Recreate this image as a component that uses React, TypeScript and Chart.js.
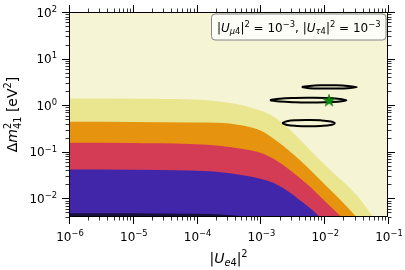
import React, { useEffect, useRef } from "react";
import { Chart, registerables } from "chart.js";

Chart.register(...registerables);

// ---- axes ----
const xMin = 1e-6;
const xMax = 1e-1;
const yMin = 4e-3;
const yMax = 1e2;
const xTickExponents = [-6, -5, -4, -3, -2, -1];
const yTickExponents = [-2, -1, 0, 1, 2];

// ---- allowed regions (upper boundaries) ----
const yellowX = [1e-6, 1e-5, 7.85e-5, 2.06e-4, 5.31e-4, 1.41e-3, 1.87e-3, 3.46e-3, 6.6e-3, 1.22e-2, 2.34e-2, 3.87e-2, 5.8e-2];
const yellowY = [1.39, 1.37, 1.32, 1.22, 0.986, 0.632, 0.494, 0.236, 0.0957, 0.042, 0.0184, 0.00867, 0.004];

const orangeX = [1e-6, 1e-5, 7.85e-5, 2.06e-4, 5.31e-4, 1e-3, 1.68e-3, 3.07e-3, 5.94e-3, 1.08e-2, 1.88e-2, 3.2e-2];
const orangeY = [0.441, 0.437, 0.426, 0.42, 0.367, 0.287, 0.184, 0.0957, 0.042, 0.0184, 0.00867, 0.004];

const redX = [1e-6, 1e-5, 7.85e-5, 2.06e-4, 5.31e-4, 1e-3, 1.68e-3, 3.1e-3, 5.94e-3, 1.06e-2, 1.86e-2];
const redY = [0.157, 0.155, 0.148, 0.137, 0.115, 0.0957, 0.0687, 0.038, 0.0181, 0.0084, 0.004];

const blueX = [1e-6, 1e-5, 7.85e-5, 2.06e-4, 5.31e-4, 1e-3, 1.68e-3, 2.89e-3, 4.6e-3, 6.6e-3, 8.5e-3];
const blueY = [0.042, 0.0414, 0.04, 0.0375, 0.0313, 0.0265, 0.021, 0.0135, 0.00826, 0.00556, 0.004];

const darkX = [1e-6, 1e-4, 2.77e-4, 6.8e-4];
const darkY = [0.0048, 0.0047, 0.00445, 0.004];

// ---- fit contours ----
const upperEllX = [4.45e-3, 5.94e-3, 9.16e-3, 1.46e-2, 2.34e-2, 3.24e-2, 2.34e-2, 1.46e-2, 9.16e-3, 5.94e-3, 4.45e-3];
const upperEllY = [2.45, 2.6, 2.67, 2.67, 2.6, 2.45, 2.32, 2.28, 2.28, 2.32, 2.45];

const midEllX = [1.41e-3, 2.01e-3, 3.46e-3, 5.94e-3, 1.02e-2, 1.63e-2, 2.23e-2, 1.63e-2, 1.02e-2, 5.94e-3, 3.46e-3, 2.01e-3, 1.41e-3];
const midEllY = [1.28, 1.38, 1.43, 1.44, 1.43, 1.38, 1.28, 1.19, 1.16, 1.15, 1.16, 1.2, 1.28];

const lowEllX = [2.19e-3, 2.6e-3, 3.71e-3, 5.73e-3, 8.83e-3, 1.27e-2, 1.46e-2, 1.27e-2, 8.83e-3, 5.73e-3, 3.71e-3, 2.6e-3, 2.19e-3];
const lowEllY = [0.412, 0.452, 0.475, 0.48, 0.474, 0.448, 0.412, 0.377, 0.359, 0.353, 0.359, 0.377, 0.412];

// ---- best fit ----
const starX = [1.19e-2];
const starY = [1.28];

const COLORS = {
  bg: "#f5f4d4",
  yellow: "#e9e68f",
  orange: "#e6940f",
  red: "#d43c55",
  blue: "#4226aa",
  dark: "#18103c",
};

const FONT = '"DejaVu Sans", sans-serif';

type Seg = { t: string; it?: boolean; sc?: "sup" | "sub"; sub?: string };

function pts(xs: number[], ys: number[]) {
  return xs.map((x, i) => ({ x, y: ys[i] }));
}

function segFont(size: number, s: Seg, script: boolean) {
  const sz = script ? size * 0.7 : size;
  return `${s.it ? "italic " : ""}${sz}px ${FONT}`;
}

function segWidth(ctx: CanvasRenderingContext2D, s: Seg, size: number) {
  ctx.font = segFont(size, s, !!s.sc);
  let w = ctx.measureText(s.t).width;
  if (s.sub) {
    ctx.font = segFont(size, { t: s.sub }, true);
    w = Math.max(w, ctx.measureText(s.sub).width);
  }
  return w;
}

function drawRich(
  ctx: CanvasRenderingContext2D,
  segs: Seg[],
  x: number,
  y: number,
  size: number,
  align: "left" | "center" | "right"
) {
  const widths = segs.map((s) => segWidth(ctx, s, size));
  const total = widths.reduce((a, b) => a + b, 0);
  let cx = align === "left" ? x : align === "center" ? x - total / 2 : x - total;
  ctx.textAlign = "left";
  ctx.textBaseline = "alphabetic";
  segs.forEach((s, i) => {
    ctx.font = segFont(size, s, !!s.sc);
    const dy = s.sc === "sup" ? -size * 0.4 : s.sc === "sub" ? size * 0.2 : 0;
    ctx.fillText(s.t, cx, y + dy);
    if (s.sub) {
      ctx.font = segFont(size, { t: s.sub }, true);
      ctx.fillText(s.sub, cx, y + size * 0.3);
    }
    cx += widths[i];
  });
  return total;
}

function expLabel(e: number): Seg[] {
  return [{ t: "10" }, { t: (e < 0 ? "\u2212" : "") + Math.abs(e), sc: "sup" }];
}

function makeStar(size: number, color: string) {
  const c = document.createElement("canvas");
  c.width = size;
  c.height = size;
  const g = c.getContext("2d")!;
  const R = size / 2 - 0.5;
  const r = R * 0.382;
  g.beginPath();
  for (let i = 0; i < 10; i++) {
    const rad = i % 2 === 0 ? R : r;
    const a = -Math.PI / 2 + (i * Math.PI) / 5;
    const px = size / 2 + rad * Math.cos(a);
    const py = size / 2 + 0.6 + rad * Math.sin(a);
    if (i === 0) g.moveTo(px, py);
    else g.lineTo(px, py);
  }
  g.closePath();
  g.fillStyle = color;
  g.fill();
  g.strokeStyle = "#0a6e0a";
  g.lineWidth = 0.6;
  g.stroke();
  return c;
}

const decorPlugin = {
  id: "decor",
  beforeDraw(chart: any) {
    const { ctx, chartArea: a } = chart;
    ctx.save();
    ctx.fillStyle = "#ffffff";
    ctx.fillRect(0, 0, chart.width, chart.height);
    ctx.fillStyle = COLORS.bg;
    ctx.fillRect(a.left, a.top, a.right - a.left, a.bottom - a.top);
    ctx.restore();
  },
  afterDraw(chart: any) {
    const { ctx, chartArea: a } = chart;
    const xs = chart.scales.x;
    const ys = chart.scales.y;
    ctx.save();
    // spines
    ctx.strokeStyle = "#000";
    ctx.lineWidth = 1;
    ctx.strokeRect(a.left + 0.5, a.top + 0.5, a.right - a.left - 1, a.bottom - a.top - 1);

    // ticks
    const drawTicks = (scale: any, min: number, max: number, horizontal: boolean) => {
      const e0 = Math.floor(Math.log10(min));
      const e1 = Math.ceil(Math.log10(max));
      for (let e = e0; e <= e1; e++) {
        for (let k = 1; k <= 9; k++) {
          const v = k * Math.pow(10, e);
          if (v < min * 0.999 || v > max * 1.001) continue;
          const p = Math.round(scale.getPixelForValue(v)) + 0.5;
          const len = k === 1 ? 7 : 3.5;
          ctx.lineWidth = k === 1 ? 1 : 0.8;
          ctx.beginPath();
          if (horizontal) {
            ctx.moveTo(p, a.bottom);
            ctx.lineTo(p, a.bottom + len);
            ctx.moveTo(p, a.top);
            ctx.lineTo(p, a.top - len);
          } else {
            ctx.moveTo(a.left, p);
            ctx.lineTo(a.left - len, p);
            ctx.moveTo(a.right, p);
            ctx.lineTo(a.right + len, p);
          }
          ctx.stroke();
        }
      }
    };
    drawTicks(xs, xMin, xMax, true);
    drawTicks(ys, yMin, yMax, false);

    // tick labels
    ctx.fillStyle = "#000";
    const tsize = 12;
    xTickExponents.forEach((e) => {
      const px = xs.getPixelForValue(Math.pow(10, e));
      drawRich(ctx, expLabel(e), px + 1, a.bottom + 24, tsize, "center");
    });
    yTickExponents.forEach((e) => {
      const py = ys.getPixelForValue(Math.pow(10, e));
      drawRich(ctx, expLabel(e), a.left - 12, py + 4.5, tsize, "right");
    });

    // axis titles
    const xTitle: Seg[] = [
      { t: "|" },
      { t: "U", it: true },
      { t: "e", it: true, sc: "sub" },
      { t: "4", sc: "sub" },
      { t: "|" },
      { t: "2", sc: "sup" },
    ];
    drawRich(ctx, xTitle, (a.left + a.right) / 2, 263, 14, "center");

    const yTitle: Seg[] = [
      { t: "\u0394" },
      { t: "m", it: true },
      { t: "2", sc: "sup", sub: "41" },
      { t: " [eV" },
      { t: "2", sc: "sup" },
      { t: "]" },
    ];
    ctx.save();
    ctx.translate(17, (a.top + a.bottom) / 2);
    ctx.rotate(-Math.PI / 2);
    drawRich(ctx, yTitle, 0, 0, 14, "center");
    ctx.restore();

    // annotation box
    const boxSegs: Seg[] = [
      { t: "|" },
      { t: "U", it: true },
      { t: "\u03bc", it: true, sc: "sub" },
      { t: "4", sc: "sub" },
      { t: "|" },
      { t: "2", sc: "sup" },
      { t: " = 10" },
      { t: "\u22123", sc: "sup" },
      { t: ", |" },
      { t: "U", it: true },
      { t: "\u03c4", it: true, sc: "sub" },
      { t: "4", sc: "sub" },
      { t: "|" },
      { t: "2", sc: "sup" },
      { t: " = 10" },
      { t: "\u22123", sc: "sup" },
    ];
    const bx = 211;
    const by = 13.5;
    const bw = 174.5;
    const bh = 26;
    ctx.beginPath();
    ctx.roundRect(bx + 0.5, by + 0.5, bw, bh, 3.5);
    ctx.fillStyle = "rgba(255,255,255,0.8)";
    ctx.fill();
    ctx.strokeStyle = "#858585";
    ctx.lineWidth = 1;
    ctx.stroke();
    ctx.fillStyle = "#000";
    drawRich(ctx, boxSegs, bx + bw / 2 + 0.5, by + 18, 12, "center");
    ctx.restore();
  },
};

export default function App() {
  const ref = useRef<HTMLCanvasElement | null>(null);

  useEffect(() => {
    if (!ref.current) return;
    const star = makeStar(14, "#0c8a0c");
    const region = (xs: number[], ys: number[], color: string) => ({
      data: pts(xs, ys),
      borderWidth: 0,
      borderColor: color,
      backgroundColor: color,
      fill: "start" as const,
      pointRadius: 0,
      cubicInterpolationMode: "monotone" as const,
    });
    const contour = (xs: number[], ys: number[]) => ({
      data: pts(xs, ys),
      borderWidth: 2,
      borderColor: "#000",
      backgroundColor: "transparent",
      fill: false,
      pointRadius: 0,
      tension: 0.4,
    });
    const chart = new Chart(ref.current, {
      type: "line",
      data: {
        datasets: [
          {
            data: pts(starX, starY),
            showLine: false,
            pointStyle: star as any,
            pointRadius: 7,
            borderColor: "#0c8a0c",
            backgroundColor: "#0c8a0c",
          } as any,
          contour(upperEllX, upperEllY),
          contour(midEllX, midEllY),
          contour(lowEllX, lowEllY),
          region(darkX, darkY, COLORS.dark),
          region(blueX, blueY, COLORS.blue),
          region(redX, redY, COLORS.red),
          region(orangeX, orangeY, COLORS.orange),
          region(yellowX, yellowY, COLORS.yellow),
        ],
      },
      options: {
        animation: false,
        responsive: false,
        devicePixelRatio: 1,
        layout: { padding: { left: 69, right: 17, top: 12, bottom: 53 } },
        plugins: { legend: { display: false }, tooltip: { enabled: false } },
        events: [],
        scales: {
          x: { type: "logarithmic", min: xMin, max: xMax, display: false },
          y: { type: "logarithmic", min: yMin, max: yMax, display: false },
        },
      },
      plugins: [decorPlugin],
    } as any);
    return () => chart.destroy();
  }, []);

  return (
    <div style={{ position: "absolute", left: 0, top: 0, width: 405, height: 270 }}>
      <canvas ref={ref} width={405} height={270} style={{ display: "block" }} />
    </div>
  );
}
